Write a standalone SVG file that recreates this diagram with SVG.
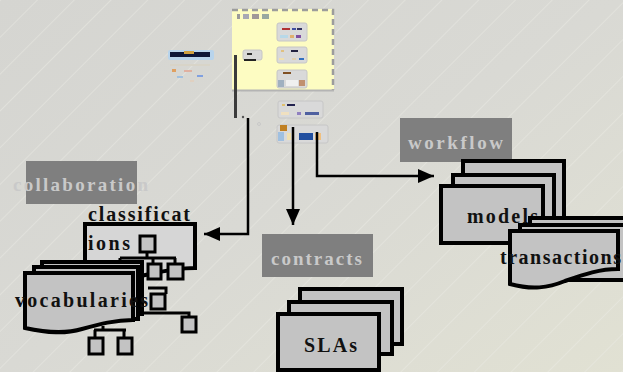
<svg xmlns="http://www.w3.org/2000/svg" width="623" height="372" viewBox="0 0 623 372">
  <defs>
    <linearGradient id="bg" x1="0" y1="0" x2="1" y2="1">
      <stop offset="0" stop-color="#d5d5d1"/>
      <stop offset="0.5" stop-color="#d9d9d4"/>
      <stop offset="1" stop-color="#e1e1d3"/>
    </linearGradient>
    <pattern id="stripes" patternUnits="userSpaceOnUse" width="26" height="26" patternTransform="rotate(45)">
      <line x1="0.5" y1="0" x2="0.5" y2="26" stroke="#ececE6" stroke-width="0.8"/>
    </pattern>
    <filter id="soft" x="-5%" y="-5%" width="110%" height="110%">
      <feGaussianBlur stdDeviation="0.6"/>
    </filter>
    <marker id="arrow" markerUnits="userSpaceOnUse" markerWidth="17" markerHeight="15" refX="16" refY="7" orient="auto">
      <path d="M0,0 L16,7 L0,14 Z" fill="#000"/>
    </marker>
    <style>
      .label-box { fill: #7f7f7f; }
      .label { font-family: "Liberation Serif", "Times New Roman", serif; font-weight: bold; font-size: 19px; fill: #c9c9c9; }
      .name { font-family: "Liberation Serif", "Times New Roman", serif; font-weight: bold; font-size: 20px; fill: #111; }
      .card { fill: #c3c3c3; stroke: #000; stroke-width: 4; stroke-linejoin: miter; }
      .doc { fill: #c3c3c3; stroke: #000; stroke-width: 4; }
      .leaf { fill: #c3c3c3; stroke: #000; stroke-width: 3; }
      .tree { fill: none; stroke: #000; stroke-width: 3; }
      .conn { fill: none; stroke: #000; stroke-width: 2.5; }
      .mini { fill: #d9d9d9; stroke: #c6c6c6; stroke-width: 1; }
    </style>
  </defs>

  <!-- backdrop -->
  <rect width="623" height="372" fill="url(#bg)"/>
  <rect width="623" height="372" fill="url(#stripes)" opacity="0.55"/>

  <!-- overview thumbnail -->
  <g id="overview" filter="url(#soft)">
    <rect x="232" y="9" width="102" height="82" fill="#fdfcc2"/>
    <path d="M232,10 H333 V90" fill="none" stroke="#9c9c9c" stroke-width="2.5" stroke-dasharray="6,4"/>
    <line x1="232" y1="90.5" x2="334" y2="90.5" stroke="#b4b4b4" stroke-width="2"/>
    <rect x="237" y="14" width="3" height="5" fill="#9a9a9a"/>
    <rect x="243" y="14" width="6" height="5" fill="#a8a8b4"/>
    <rect x="252" y="14" width="7" height="5" fill="#a09898"/>
    <rect x="262" y="14" width="7" height="5" fill="#98a8a0"/>
    <rect x="277" y="23" width="30" height="18" rx="2" class="mini"/>
    <rect x="282" y="28" width="8" height="2" fill="#b03030"/>
    <rect x="292" y="28" width="4" height="2" fill="#4050a0"/>
    <rect x="297" y="28" width="5" height="2" fill="#303060"/>
    <rect x="280" y="35" width="8" height="3" fill="#b8d8e8"/>
    <rect x="290" y="35" width="4" height="3" fill="#e0b070"/>
    <rect x="296" y="35" width="5" height="3" fill="#8050a0"/>
    <rect x="277" y="47" width="30" height="16" rx="2" class="mini"/>
    <rect x="281" y="50" width="3" height="2" fill="#e0c080"/>
    <rect x="291" y="50" width="7" height="2" fill="#202040"/>
    <rect x="279" y="58" width="5" height="2" fill="#f0e0b0"/>
    <rect x="292" y="58" width="4" height="2" fill="#e0d0b0"/>
    <rect x="299" y="58" width="5" height="2" fill="#3070c0"/>
    <rect x="277" y="70" width="30" height="18" rx="2" class="mini"/>
    <rect x="283" y="72" width="8" height="2" fill="#805020"/>
    <rect x="278" y="80" width="6" height="7" fill="#a0b0c0"/>
    <rect x="286" y="80" width="12" height="6" fill="#f0f0f0"/>
    <rect x="299" y="80" width="6" height="6" fill="#c09070"/>
    <rect x="243" y="50" width="19" height="10" rx="2" class="mini"/>
    <rect x="247" y="53" width="5" height="2" fill="#303030"/>
    <rect x="244" y="59" width="12" height="2" fill="#202020"/>
    <rect x="234" y="55" width="3" height="63" fill="#3a3a3a"/>
    <rect x="278" y="101" width="45" height="17" rx="2" class="mini"/>
    <rect x="282" y="104" width="3" height="2" fill="#e0c070"/>
    <rect x="287" y="104" width="8" height="2" fill="#202050"/>
    <rect x="281" y="112" width="8" height="3" fill="#f0e0c0"/>
    <rect x="297" y="112" width="4" height="3" fill="#9080c0"/>
    <rect x="305" y="112" width="14" height="3" fill="#5060a0"/>
    <rect x="277" y="125" width="51" height="18" rx="2" class="mini"/>
    <rect x="280" y="125" width="7" height="6" fill="#c08020"/>
    <rect x="278" y="132" width="6" height="9" fill="#a0c0e0"/>
    <rect x="287" y="133" width="4" height="7" fill="#f0e0b0"/>
    <rect x="299" y="133" width="14" height="7" fill="#2050a0"/>
    <rect x="315" y="133" width="6" height="7" fill="#f0c080"/>
    <circle cx="243" cy="117" r="1.2" fill="#555"/>
    <circle cx="259" cy="124" r="1.5" fill="none" stroke="#c8c8c8"/>
    <rect x="168" y="50" width="46" height="10" rx="2" fill="#b8d4ec"/>
    <rect x="170" y="52" width="40" height="5" fill="#101838"/>
    <rect x="184" y="51" width="10" height="3" fill="#d0a040"/>
    <rect x="170" y="64" width="40" height="2" fill="#d8d4c8"/>
    <rect x="172" y="69" width="4" height="3" fill="#e0a060"/>
    <rect x="184" y="70" width="8" height="2" fill="#e0b0a0"/>
    <rect x="177" y="76" width="6" height="2" fill="#a0c0e0"/>
    <rect x="197" y="75" width="6" height="2" fill="#80a0e0"/>
    <rect x="190" y="80" width="4" height="2" fill="#e0d0c0"/>
  </g>

  <!-- connectors -->
  <g id="connectors">
    <path class="conn" d="M248,118 V234 H204" marker-end="url(#arrow)"/>
    <path class="conn" d="M293,127 V225" marker-end="url(#arrow)"/>
    <path class="conn" d="M317,132 V176 H434" marker-end="url(#arrow)"/>
  </g>

  <!-- group labels -->
  <g id="collaboration">
    <rect class="label-box" x="26" y="161" width="111" height="43"/>
    <text class="label" x="13" y="191" textLength="135" lengthAdjust="spacing">collaboration</text>
  </g>
  <g id="contracts">
    <rect class="label-box" x="262" y="234" width="111" height="43"/>
    <text class="label" x="271" y="265" textLength="91" lengthAdjust="spacing">contracts</text>
  </g>
  <g id="workflow">
    <rect class="label-box" x="400" y="118" width="112" height="44"/>
    <text class="label" x="408" y="149" textLength="95" lengthAdjust="spacing">workflow</text>
  </g>

  <!-- classifications -->
  <g id="classifications">
    <path class="doc" style="fill:#d6d6d6" d="M85,224 H195 V268 C180,268 168,270 150,274 C130,279 110,279 85,276 Z"/>
    <text class="name" x="88" y="221" textLength="102" lengthAdjust="spacing">classificat</text>
    <text class="name" x="88" y="250" textLength="42" lengthAdjust="spacing">ions</text>
    <rect class="leaf" x="140" y="236" width="15" height="16"/>
    <path class="tree" d="M147,252 V258 M120,258 H176 M120,258 V266 M153,258 V264 M175,258 V264"/>
    <rect class="leaf" x="148" y="264" width="13" height="15"/>
    <rect class="leaf" x="168" y="264" width="15" height="15"/>
  </g>

  <!-- vocabularies -->
  <g id="vocabularies">
    <path class="tree" d="M148,288 H166 V294 M135,313 H189 V317 M103,326 V330 M94,330 H126 M95,330 V338 M124,330 V338"/>
    <rect class="leaf" x="151" y="294" width="14" height="15"/>
    <rect class="leaf" x="182" y="317" width="14" height="15"/>
    <rect class="leaf" x="89" y="338" width="14" height="16"/>
    <rect class="leaf" x="118" y="338" width="14" height="16"/>
    <rect class="card" x="42" y="262" width="100" height="52"/>
    <rect class="card" x="34" y="267" width="104" height="52"/>
    <path class="doc" d="M25,273 H133 V320 C115,320 100,324 82,329 C65,334 48,333 25,328 Z"/>
    <text class="name" x="15" y="307" textLength="133" lengthAdjust="spacing">vocabularies</text>
  </g>

  <!-- SLAs -->
  <g id="slas">
    <rect class="card" x="300" y="289" width="102" height="55"/>
    <rect class="card" x="289" y="302" width="103" height="52"/>
    <rect class="card" x="278" y="314" width="101" height="56"/>
    <text class="name" x="304" y="352" textLength="53" lengthAdjust="spacing">SLAs</text>
  </g>

  <!-- models -->
  <g id="models">
    <rect class="card" x="463" y="161" width="101" height="57"/>
    <rect class="card" x="453" y="175" width="101" height="57"/>
    <rect class="card" x="441" y="186" width="102" height="57"/>
    <text class="name" x="467" y="223" textLength="71" lengthAdjust="spacing">models</text>
  </g>

  <!-- transactions -->
  <g id="transactions">
    <rect class="card" x="530" y="218" width="110" height="55"/>
    <rect class="card" x="520" y="225" width="110" height="55"/>
    <path class="doc" d="M510,231 H618 V269 C600,269 585,274 565,281 C548,288 532,290 510,284 Z"/>
    <text class="name" x="500" y="264" textLength="121" lengthAdjust="spacing">transactions</text>
  </g>
</svg>
